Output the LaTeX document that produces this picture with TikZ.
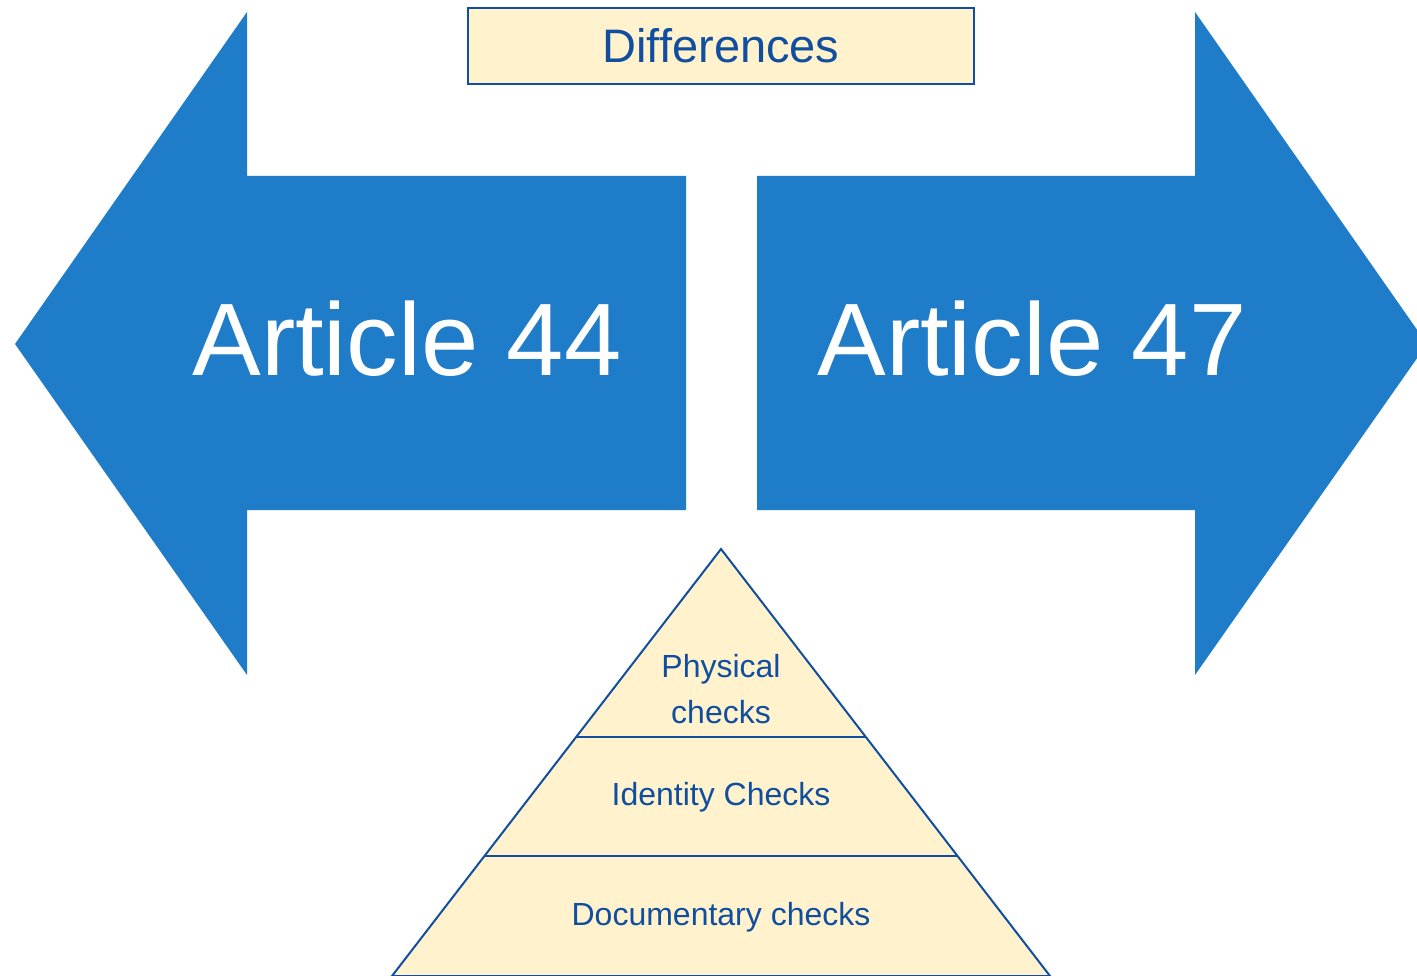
\documentclass[tikz,border=0pt]{standalone}
\usepackage{fontspec}
\setmainfont{Liberation Sans}
\definecolor{arrowblue}{RGB}{31,124,200}
\definecolor{darkblue}{RGB}{16,78,160}
\definecolor{paleyellow}{RGB}{255,242,204}
\tikzset{
  bigarrow/.style={fill=arrowblue, draw=none},
  arrowtext/.style={text=white, font=\fontsize{103}{110}\selectfont, inner sep=0pt, anchor=base},
  tier/.style={text=darkblue, font=\fontsize{32}{46}\selectfont, align=center, inner sep=0pt},
  outline/.style={draw=darkblue, line width=2pt}
}
\begin{document}
\begin{tikzpicture}[x=1pt,y=-1pt]
\useasboundingbox (0,0) rectangle (1417,976);
\begin{scope}
\clip (0,0) rectangle (1417,976);
% left arrow
\fill[bigarrow] (15,344) -- (247,12) -- (247,176) -- (686,176) -- (686,510) -- (247,510) -- (247,675) -- cycle;
% right arrow
\fill[bigarrow] (1427,344) -- (1195,12) -- (1195,176) -- (757,176) -- (757,510) -- (1195,510) -- (1195,675) -- cycle;
% pyramid
\coordinate (apex) at (721,549);
\coordinate (bl) at (392,976);
\coordinate (br) at (1050,976);
\filldraw[fill=paleyellow, outline] (apex) -- (br) -- (bl) -- cycle;
\coordinate (l1) at (577,737);
\coordinate (r1) at (865,737);
\coordinate (l2) at (485,856);
\coordinate (r2) at (957,856);
\draw[outline] (l1) -- (r1);
\draw[outline] (l2) -- (r2);
\end{scope}
% differences box
\node[draw=darkblue, line width=1.5pt, fill=paleyellow, minimum width=506pt, minimum height=76pt, inner sep=0pt,
      text=darkblue, font=\fontsize{47}{50}\selectfont] (diff) at (721,46) {Differences};
% arrow labels
\node[arrowtext] (a44) at (407,376) {Article 44};
\node[arrowtext] (a47) at (1032,376) {Article 47};
% tier labels
\node[tier] (phys) at (721,689) {Physical\\checks};
\node[tier] (ident) at (721,797) {Identity Checks};
\node[tier] (doc) at (721,917) {Documentary checks};
\end{tikzpicture}
\end{document}
